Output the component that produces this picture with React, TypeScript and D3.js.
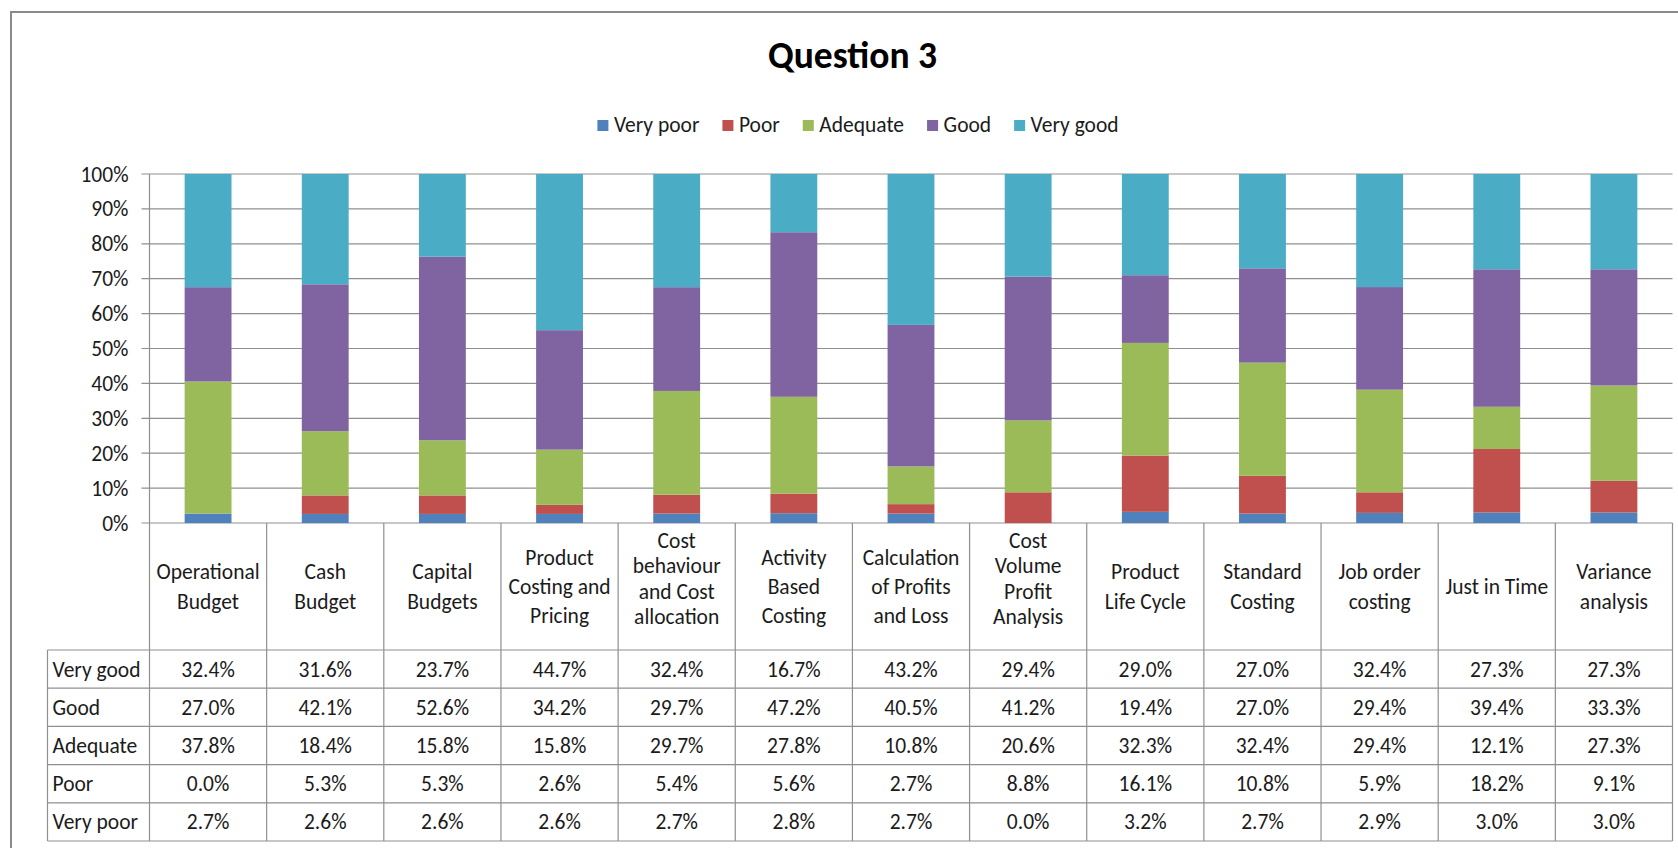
import React, { useEffect, useRef } from 'react';
import * as d3 from 'd3';

const title = 'Question 3';
const categories = [
  'Operational\nBudget',
  'Cash\nBudget',
  'Capital\nBudgets',
  'Product\nCosting and\nPricing',
  'Cost\nbehaviour\nand Cost\nallocation',
  'Activity\nBased\nCosting',
  'Calculation\nof Profits\nand Loss',
  'Cost\nVolume\nProfit\nAnalysis',
  'Product\nLife Cycle',
  'Standard\nCosting',
  'Job order\ncosting',
  'Just in Time',
  'Variance\nanalysis',
];
const seriesNames = ['Very poor', 'Poor', 'Adequate', 'Good', 'Very good'];
const veryPoor = [2.7, 2.6, 2.6, 2.6, 2.7, 2.8, 2.7, 0.0, 3.2, 2.7, 2.9, 3.0, 3.0];
const poor = [0.0, 5.3, 5.3, 2.6, 5.4, 5.6, 2.7, 8.8, 16.1, 10.8, 5.9, 18.2, 9.1];
const adequate = [37.8, 18.4, 15.8, 15.8, 29.7, 27.8, 10.8, 20.6, 32.3, 32.4, 29.4, 12.1, 27.3];
const good = [27.0, 42.1, 52.6, 34.2, 29.7, 47.2, 40.5, 41.2, 19.4, 27.0, 29.4, 39.4, 33.3];
const veryGood = [32.4, 31.6, 23.7, 44.7, 32.4, 16.7, 43.2, 29.4, 29.0, 27.0, 32.4, 27.3, 27.3];
const yTicks = [0, 10, 20, 30, 40, 50, 60, 70, 80, 90, 100];
const colors = ['#4F81BD', '#C0504D', '#9BBB59', '#8064A2', '#4BACC6'];

const FONT = 'Carlito, Calibri, Lato, sans-serif';
const W = 1678;
const H = 848;

export default function App() {
  const ref = useRef<SVGSVGElement | null>(null);

  useEffect(() => {
    document.body.style.margin = '0';
    const svg = d3.select(ref.current);
    svg.selectAll('*').remove();

    const seriesValues = [veryPoor, poor, adequate, good, veryGood];
    const rows = categories.map((c, i) => {
      const r: any = { key: c };
      seriesNames.forEach((s, j) => (r[s] = seriesValues[j][i]));
      return r;
    });

    const plotLeft = 149.5;
    const plotRight = 1672.5;
    const yTop = 174;
    const yBottom = 523;
    const tableBottom = 841;
    const labelLeft = 47.5;
    const headerBottom = 650;
    const rowH = (tableBottom - headerBottom) / 5;

    const x = d3
      .scaleBand<number>()
      .domain(categories.map((_, i) => i))
      .range([plotLeft, plotRight]);
    const y = d3.scaleLinear().domain([0, 1]).range([yBottom, yTop]);
    const yPct = d3.scaleLinear().domain([0, 100]).range([yBottom, yTop]);

    const grid = '#8f8f8f';
    const textColor = '#1b1b1b';

    // frame
    svg
      .append('rect')
      .attr('x', 11)
      .attr('y', 12)
      .attr('width', W + 20)
      .attr('height', H + 20)
      .attr('fill', '#fff')
      .attr('stroke', '#8a8a8a')
      .attr('stroke-width', 2);

    // title
    svg
      .append('text')
      .attr('x', 852.5)
      .attr('y', 68)
      .attr('text-anchor', 'middle')
      .attr('font-family', FONT)
      .attr('font-weight', 'bold')
      .attr('font-size', 37.5)
      .attr('fill', '#000')
      .text(title);

    // legend
    const legend = svg.append('g');
    let lx = 0;
    seriesNames.forEach((s, i) => {
      const g = legend.append('g').attr('transform', `translate(${lx},0)`);
      g.append('rect')
        .attr('x', 0)
        .attr('y', 120)
        .attr('width', 11)
        .attr('height', 11)
        .attr('fill', colors[i]);
      const t = g
        .append('text')
        .attr('x', 16.5)
        .attr('y', 132)
        .attr('font-family', FONT)
        .attr('font-size', 21.5)
        .attr('fill', textColor)
        .text(s);
      const w = (t.node() as SVGTextElement).getComputedTextLength();
      lx += 16.5 + w + 23;
    });
    const legendW = lx - 23;
    legend.attr('transform', `translate(${858 - legendW / 2},0)`);

    // gridlines + y labels
    yTicks.forEach((v) => {
      const yy = yPct(v);
      svg
        .append('line')
        .attr('x1', 141.5)
        .attr('x2', plotRight)
        .attr('y1', yy)
        .attr('y2', yy)
        .attr('stroke', grid)
        .attr('stroke-width', 1.2);
      svg
        .append('text')
        .attr('x', 128.5)
        .attr('y', yy)
        .attr('dy', '0.35em')
        .attr('text-anchor', 'end')
        .attr('font-family', FONT)
        .attr('font-size', 21.5)
        .attr('fill', textColor)
        .text(`${v}%`);
    });

    // bars
    const stack = d3.stack<any>().keys(seriesNames).offset(d3.stackOffsetExpand);
    const stacked = stack(rows);
    const bw = x.bandwidth() * 0.4;
    stacked.forEach((layer, j) => {
      svg
        .append('g')
        .selectAll('rect')
        .data(layer)
        .join('rect')
        .attr('x', (_, i) => (x(i) as number) + x.bandwidth() / 2 - bw / 2)
        .attr('width', bw)
        .attr('y', (d) => y(d[1]))
        .attr('height', (d) => y(d[0]) - y(d[1]))
        .attr('fill', colors[j]);
    });

    // table lines
    const lines = svg.append('g').attr('stroke', grid).attr('stroke-width', 1.2);
    categories.forEach((_, i) => {
      const xx = x(i) as number;
      lines
        .append('line')
        .attr('x1', xx)
        .attr('x2', xx)
        .attr('y1', i === 0 ? yTop : yBottom)
        .attr('y2', tableBottom);
    });
    lines
      .append('line')
      .attr('x1', plotRight)
      .attr('x2', plotRight)
      .attr('y1', yBottom)
      .attr('y2', tableBottom);
    lines
      .append('line')
      .attr('x1', labelLeft)
      .attr('x2', labelLeft)
      .attr('y1', headerBottom)
      .attr('y2', tableBottom);
    for (let r = 0; r <= 5; r++) {
      const yy = headerBottom + r * rowH;
      lines
        .append('line')
        .attr('x1', labelLeft)
        .attr('x2', plotRight)
        .attr('y1', yy)
        .attr('y2', yy);
    }

    // header labels
    const headerMid = (yBottom + headerBottom) / 2;
    categories.forEach((c, i) => {
      const parts = c.split('\n');
      const cx = (x(i) as number) + x.bandwidth() / 2;
      const t = svg
        .append('text')
        .attr('text-anchor', 'middle')
        .attr('font-family', FONT)
        .attr('font-size', 21.5)
        .attr('fill', textColor);
      parts.forEach((p, k) => {
        const yy =
          parts.length >= 4
            ? yBottom + 17.5 + k * 25.4
            : headerMid + (k - (parts.length - 1) / 2) * 29.4;
        t.append('tspan').attr('x', cx).attr('y', yy).attr('dy', '0.35em').text(p);
      });
    });

    // table rows (reverse order)
    const rowOrder = [4, 3, 2, 1, 0];
    rowOrder.forEach((sIdx, r) => {
      const cy = headerBottom + r * rowH + rowH / 2;
      svg
        .append('text')
        .attr('x', 52.5)
        .attr('y', cy)
        .attr('dy', '0.35em')
        .attr('font-family', FONT)
        .attr('font-size', 21.5)
        .attr('fill', textColor)
        .text(seriesNames[sIdx]);
      seriesValues[sIdx].forEach((v, i) => {
        svg
          .append('text')
          .attr('x', (x(i) as number) + x.bandwidth() / 2)
          .attr('y', cy)
          .attr('dy', '0.35em')
          .attr('text-anchor', 'middle')
          .attr('font-family', FONT)
          .attr('font-size', 21.5)
          .attr('fill', textColor)
          .text(`${v.toFixed(1)}%`);
      });
    });
  }, []);

  return <svg ref={ref} width={W} height={H} style={{ display: 'block' }} />;
}
